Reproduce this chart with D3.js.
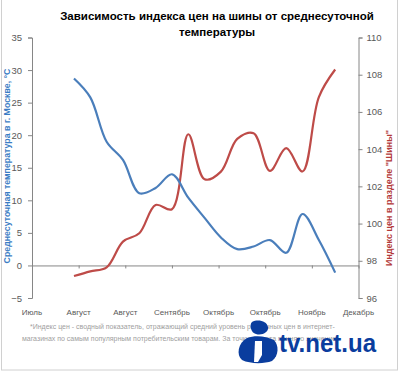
<!DOCTYPE html>
<html>
<head>
<meta charset="utf-8">
<script src="https://cdn.jsdelivr.net/npm/d3@7"></script>
<style>
  body { margin: 0; background: #fff; }
  svg { display: block; font-family: "Liberation Sans", Arial, sans-serif; }
  .axis path, .axis line { stroke: #868686; }
  .axis text { fill: #595959; }
</style>
</head>
<body>
<svg id="chart" width="400" height="372"></svg>
<script>
// weekly observations
const firstDate = new Date(2011, 7, 5);
const temperature = [28.7, 25.8, 19.0, 16.2, 11.1, 11.9, 14.0, 10.4, 7.3, 4.3, 2.5, 2.9, 3.9, 1.95, 7.9, 3.9, -1.1];
const priceIndex = [97.18, 97.43, 97.65, 99.03, 99.48, 101.0, 100.77, 104.8, 102.38, 102.79, 104.55, 104.85, 102.83, 104.05, 102.8, 106.8, 108.28];

// x axis: tick every 20 days, labels as in the original
const axisStart = new Date(2011, 6, 18);
const tickStepDays = 20;
const monthLabels = ['Июль', 'Август', 'Август', 'Сентябрь', 'Октябрь', 'Октябрь', 'Ноябрь', 'Декабрь'];
const tempTicks = [-5, 0, 5, 10, 15, 20, 25, 30, 35];
const indexTicks = [96, 98, 100, 102, 104, 106, 108, 110];

const DAY = 24 * 3600 * 1000;
const dates = temperature.map((d, i) => new Date(firstDate.getTime() + i * 7 * DAY));
const tickDates = monthLabels.map((d, i) => new Date(axisStart.getTime() + i * tickStepDays * DAY));

const svg = d3.select('#chart');

// рамка вокруг картинки
svg.append('rect')
  .attr('x', 1.5).attr('y', -2).attr('width', 396).attr('height', 372)
  .attr('fill', 'none').attr('stroke', '#d0d0d0');

const plot = { left: 32, right: 358.5, top: 37.5, bottom: 298 };

const x = d3.scaleTime()
  .domain([tickDates[0], tickDates[tickDates.length - 1]])
  .range([plot.left, plot.right]);
const yT = d3.scaleLinear().domain([-5, 35]).range([plot.bottom, plot.top]);
const yI = d3.scaleLinear().domain([96, 110]).range([plot.bottom, plot.top]);

// левая ось
svg.append('g')
  .attr('class', 'axis')
  .attr('transform', `translate(${plot.left},0)`)
  .call(d3.axisLeft(yT).tickValues(tempTicks).tickSize(4).tickSizeOuter(4).tickPadding(6))
  .call(g => g.selectAll('text').attr('font-size', 9.5));

// правая ось
svg.append('g')
  .attr('class', 'axis')
  .attr('transform', `translate(${plot.right},0)`)
  .call(d3.axisRight(yI).tickValues(indexTicks).tickSize(4).tickSizeOuter(4).tickPadding(4))
  .call(g => g.selectAll('text').attr('font-size', 9.5));

// ось X по нулю температуры
const xAxis = svg.append('g')
  .attr('class', 'axis')
  .attr('transform', `translate(0,${yT(0)})`)
  .call(d3.axisBottom(x).tickValues(tickDates).tickSize(3).tickSizeOuter(0).tickFormat(() => ''));
xAxis.select('.domain').attr('stroke', '#a6a6a6');

// подписи месяцев внизу
svg.append('g')
  .selectAll('text')
  .data(tickDates)
  .join('text')
  .attr('x', d => x(d))
  .attr('y', 315)
  .attr('text-anchor', 'middle')
  .attr('font-size', 8)
  .attr('fill', '#595959')
  .text((d, i) => monthLabels[i]);

// линии
const lineT = d3.line()
  .x((d, i) => x(dates[i]))
  .y(d => yT(d))
  .curve(d3.curveCatmullRom.alpha(0.5));
const lineI = d3.line()
  .x((d, i) => x(dates[i]))
  .y(d => yI(d))
  .curve(d3.curveCatmullRom.alpha(0.5));

svg.append('path')
  .datum(priceIndex)
  .attr('d', lineI)
  .attr('fill', 'none')
  .attr('stroke', '#be4b48')
  .attr('stroke-width', 2.2);

svg.append('path')
  .datum(temperature)
  .attr('d', lineT)
  .attr('fill', 'none')
  .attr('stroke', '#4a7ebb')
  .attr('stroke-width', 2.2);

// заголовок
const title = svg.append('text')
  .attr('text-anchor', 'middle')
  .attr('font-weight', 'bold')
  .attr('font-size', 11.5)
  .attr('fill', '#000');
title.append('tspan').attr('x', 217).attr('y', 20).text('Зависимость индекса цен на шины от среднесуточной');
title.append('tspan').attr('x', 217).attr('y', 36).text('температуры');

// подписи осей
svg.append('text')
  .attr('transform', 'translate(10,166) rotate(-90)')
  .attr('text-anchor', 'middle')
  .attr('font-weight', 'bold')
  .attr('font-size', 8.8)
  .attr('fill', '#3a7cc4')
  .text('Среднесуточная температура в г. Москве, °С');

svg.append('text')
  .attr('transform', 'translate(392,198) rotate(-90)')
  .attr('text-anchor', 'middle')
  .attr('font-weight', 'bold')
  .attr('font-size', 9)
  .attr('fill', '#b33a3a')
  .text('Индекс цен в разделе "Шины"');

// сноска
const note = svg.append('text')
  .attr('font-size', 7)
  .attr('fill', '#a0a0a0');
note.append('tspan').attr('x', 30).attr('y', 329)
  .text('*Индекс цен - сводный показатель, отражающий средний уровень розничных цен в интернет-');
note.append('tspan').attr('x', 22).attr('y', 341)
  .text('магазинах по самым популярным потребительским товарам. За точку отсчета принято значение');

// логотип
const logo = svg.append('g').attr('fill', '#0a3d9e');
logo.append('path')
  .attr('d', 'M252,322 C258,319 267,321 268,327 C269,332 262,336 256,334 C251,333 249,325 252,322 Z');
logo.append('path')
  .attr('d', 'M247,338 C255,335 266,336 274,340 C279,345 279,356 272,361 C264,364 250,364 242,360 C236,355 238,343 247,338 Z');
logo.append('path')
  .attr('fill', '#fff')
  .attr('d', 'M255,341 L262,341 L262,355 L258,362 L254,362 Z');
logo.append('text')
  .attr('x', 279)
  .attr('y', 352)
  .attr('font-size', 25)
  .attr('font-weight', 'bold')
  .attr('font-family', 'Liberation Sans, Arial, sans-serif')
  .attr('textLength', 97)
  .attr('lengthAdjust', 'spacingAndGlyphs')
  .text('tv.net.ua');
</script>
</body>
</html>
